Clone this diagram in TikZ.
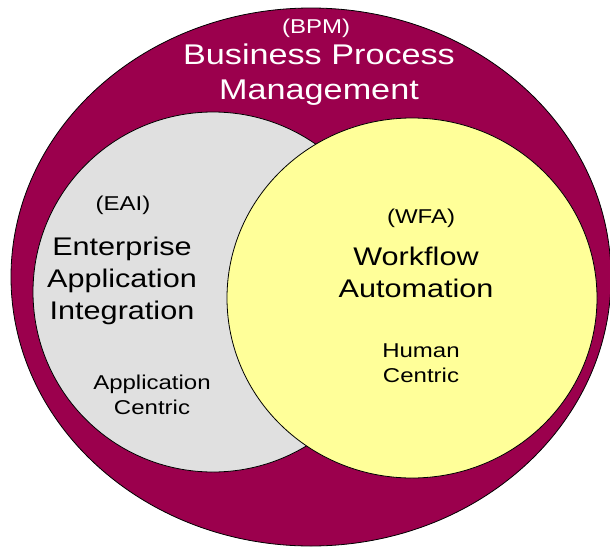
\documentclass[tikz,border=0pt]{standalone}
\usepackage{fontspec}
\usepackage{xcolor}
\usetikzlibrary{positioning}
\newfontfamily\diafont[FakeStretch=1.2]{Liberation Sans}

\definecolor{bpmred}{RGB}{155,0,77}
\definecolor{eaigray}{RGB}{224,224,224}
\definecolor{wfayellow}{RGB}{255,255,153}

\tikzset{
    venn/.style={draw=black, line width=0.8pt},
    bigtext/.style={font=\diafont\fontsize{28.5}{35}\selectfont, align=center, inner sep=0pt},
    midtext/.style={font=\diafont\fontsize{25.5}{32}\selectfont, align=center, inner sep=0pt},
    smalltext/.style={font=\diafont\fontsize{20}{25}\selectfont, align=center, inner sep=0pt}
}

\begin{document}
\begin{tikzpicture}[x=1pt, y=-1pt]
        \useasboundingbox (0, 0) rectangle (610, 546);

        % the three sets
        \draw[venn, fill=bpmred] (311, 277) ellipse [x radius=300, y radius=269];
        \draw[venn, fill=eaigray] (213, 292) circle [radius=180];
        \draw[venn, fill=wfayellow] (412, 298) ellipse [x radius=185, y radius=180];

        % BPM
        \node[smalltext, text=white, anchor=base] (bpmabbr) at (316, 33) {(BPM)};
        \node[bigtext, text=white] (bpmname) at (319, 75) {Business Process\\Management};

        % EAI
        \node[smalltext, anchor=base] (eaiabbr) at (123, 210) {(EAI)};
        \node[midtext] (eainame) at (122, 281) {Enterprise\\Application\\Integration};
        \node[smalltext] (eaifocus) at (152, 395) {Application\\Centric};

        % WFA
        \node[smalltext, anchor=base] (wfaabbr) at (421, 223) {(WFA)};
        \node[midtext] (wfaname) at (416, 272) {Workflow\\Automation};
        \node[smalltext] (wfafocus) at (421, 363) {Human\\Centric};

      \end{tikzpicture}
\end{document}
